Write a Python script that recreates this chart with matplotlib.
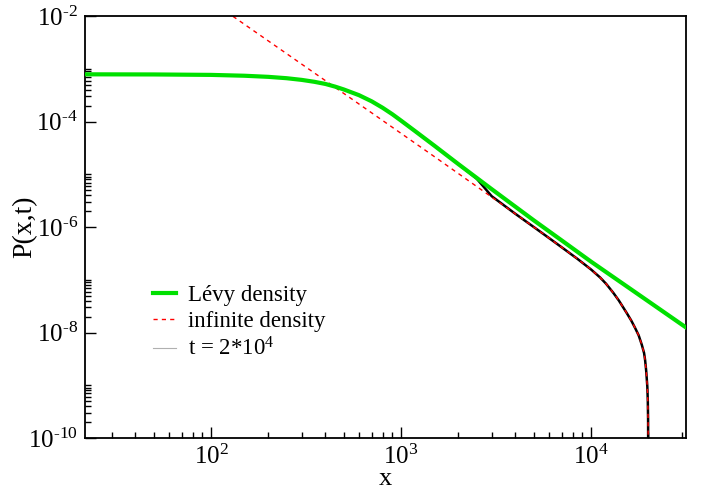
import matplotlib
matplotlib.use('Agg')
import matplotlib.pyplot as plt
from matplotlib.lines import Line2D
from matplotlib.ticker import FixedLocator, LogLocator, FuncFormatter, NullFormatter
import numpy as np

plt.rcParams['font.family'] = ['Liberation Serif', 'DejaVu Serif']
plt.rcParams['mathtext.fontset'] = 'custom'
plt.rcParams['mathtext.rm'] = 'Liberation Serif'
plt.rcParams['mathtext.it'] = 'Liberation Serif'

# Levy density (green)
levy_x = [20, 50, 100, 150, 200, 250, 300, 350, 400, 450, 500, 600, 700, 800, 900,
          1000, 1200, 1500, 1700, 2000, 2500, 3000, 4000, 5000, 7000, 10000, 15000,
          20000, 32000]
levy_p = [7.9e-4, 7.85e-4, 7.7e-4, 7.42e-4, 7.07e-4, 6.66e-4, 6.19e-4, 5.69e-4,
          5.18e-4, 4.61e-4, 4.07e-4, 3.18e-4, 2.43e-4, 1.83e-4, 1.38e-4, 1.045e-4,
          6.39e-5, 3.48e-5, 2.46e-5, 1.57e-5, 8.58e-6, 5.24e-6, 2.43e-6, 1.34e-6,
          5.6e-7, 2.21e-7, 8.04e-8, 3.92e-8, 1.21e-8]

# infinite density (red dashed)
inf_x = [120, 200, 300, 500, 800, 1000, 1500, 2000, 3000, 4000, 5000, 6000, 7000,
         8500, 10000, 11150, 12000, 13100, 14000, 15420, 16300, 17070, 17800,
         18490, 19000, 19240, 19500, 19770, 19880, 19950, 20000]
inf_p = [1.222e-2, 3.4e-3, 1.23e-3, 3.42e-4, 1.05e-4, 5.99e-5, 2.16e-5, 1.04e-5,
         3.71e-6, 1.78e-6, 1.0e-6, 6.22e-7, 4.15e-7, 2.48e-7, 1.57e-7, 1.11e-7,
         8.4e-8, 5.65e-8, 4.05e-8, 2.33e-8, 1.67e-8, 1.21e-8, 8.85e-9, 5.85e-9,
         4.1e-9, 3.0e-9, 1.86e-9, 9.3e-10, 5e-10, 2.2e-10, 1e-11]

# simulation, t = 2*10^4 (black)
sim_x = [1000, 1500, 2000, 2500, 3000, 4000, 5000, 6000, 7000, 8500, 10000, 11150,
         12000, 13100, 14000, 15420, 16300, 17070, 17800, 18490, 19000, 19240,
         19500, 19770, 19880, 19950, 20000]
sim_p = [1.045e-4, 3.48e-5, 1.57e-5, 8.3e-6, 3.85e-6, 1.78e-6, 1.0e-6, 6.22e-7, 4.15e-7,
         2.48e-7, 1.57e-7, 1.11e-7, 8.4e-8, 5.65e-8, 4.05e-8, 2.33e-8, 1.67e-8,
         1.21e-8, 8.85e-9, 5.85e-9, 4.1e-9, 3.0e-9, 1.86e-9, 9.3e-10, 5e-10,
         2.2e-10, 1e-11]

fig = plt.figure(figsize=(7.08, 4.9), dpi=100)
ax = fig.add_axes([0.120, 0.106, 0.849, 0.861])

ax.plot(sim_x, sim_p, color='black', lw=1.8, zorder=1)
ax.plot(inf_x, inf_p, color='#ff0000', lw=1.0, dashes=(3, 3), zorder=2)
ax.plot(levy_x, levy_p, color='#00e000', lw=3.0, zorder=3)

ax.set_xscale('log')
ax.set_yscale('log')
ax.set_xlim(21.7, 31600)
ax.set_ylim(1e-10, 1e-2)

fmt = FuncFormatter(lambda v, p: r'$10^{\text{%d}}$' % int(round(np.log10(v))))
ax.xaxis.set_major_locator(FixedLocator([1e2, 1e3, 1e4]))
ax.xaxis.set_minor_locator(LogLocator(base=10, subs=np.arange(2, 10)))
ax.xaxis.set_major_formatter(fmt)
ax.xaxis.set_minor_formatter(NullFormatter())
ax.yaxis.set_major_locator(FixedLocator([1e-10, 1e-8, 1e-6, 1e-4, 1e-2]))
ax.yaxis.set_minor_locator(LogLocator(base=100, subs=np.arange(2, 11)))
ax.yaxis.set_major_formatter(fmt)
ax.yaxis.set_minor_formatter(NullFormatter())

ax.tick_params(which='major', direction='in', length=8, width=1, labelsize=18, pad=5)
ax.tick_params(which='minor', direction='in', length=4.5, width=1)
ax.tick_params(top=False, right=False)
for s in ax.spines.values():
    s.set_linewidth(1.3)

ax.set_xlabel('x', fontsize=19)
ax.set_ylabel('P(x,t)', fontsize=20)
ax.xaxis.set_label_coords(0.5, -0.072)
ax.yaxis.set_label_coords(-0.08, 0.5)

handles = [Line2D([], [], color='#00e000', lw=3.0),
           Line2D([], [], color='#ff0000', lw=1.0, dashes=(3, 3)),
           Line2D([], [], color='#b0b0b0', lw=0.8)]
labels = ['Lévy density', 'infinite density', r't = 2*10$^4$']
ax.legend(handles, labels, loc='upper left', bbox_to_anchor=(0.113, 0.362),
          frameon=False, fontsize=16.5, handlelength=1.0, handletextpad=0.55,
          labelspacing=0.22, borderpad=0, borderaxespad=0)

fig.savefig('out.png', dpi=100)
